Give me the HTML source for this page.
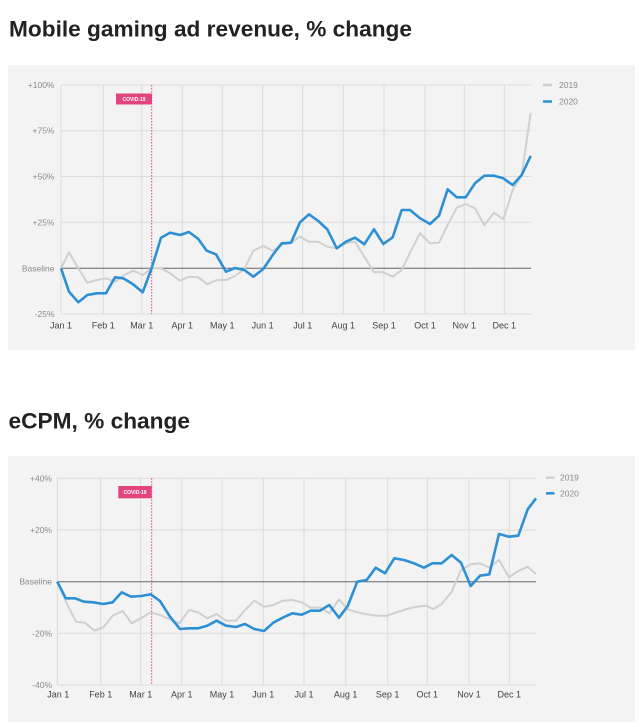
<!DOCTYPE html>
<html><head><meta charset="utf-8"><style>
html,body{margin:0;padding:0;background:#fff;}
svg{display:block;}
text{font-family:"Liberation Sans",Arial,sans-serif;}
</style></head><body>
<svg width="640" height="727" viewBox="0 0 640 727" xmlns="http://www.w3.org/2000/svg">
<rect x="0" y="0" width="640" height="727" fill="#fff"/>
<!-- Title 1 -->
<text x="9" y="36.5" font-size="22.5" font-weight="bold" fill="#222" textLength="403" lengthAdjust="spacingAndGlyphs">Mobile gaming ad revenue, % change</text>
<!-- Panel 1 -->
<rect x="8" y="65" width="627" height="285" fill="#f3f3f3"/>
<g stroke="#dcdcdc" stroke-width="1">
<line x1="61" y1="85" x2="531" y2="85"/>
<line x1="61" y1="130.7" x2="531" y2="130.7"/>
<line x1="61" y1="176.5" x2="531" y2="176.5"/>
<line x1="61" y1="222.3" x2="531" y2="222.3"/>
<line x1="61" y1="314" x2="531" y2="314"/>
<line x1="61" y1="85" x2="61" y2="314"/>
<line x1="103.3" y1="85" x2="103.3" y2="314"/>
<line x1="141.7" y1="85" x2="141.7" y2="314"/>
<line x1="182.3" y1="85" x2="182.3" y2="314"/>
<line x1="222.3" y1="85" x2="222.3" y2="314"/>
<line x1="262.7" y1="85" x2="262.7" y2="314"/>
<line x1="302.7" y1="85" x2="302.7" y2="314"/>
<line x1="343.3" y1="85" x2="343.3" y2="314"/>
<line x1="384" y1="85" x2="384" y2="314"/>
<line x1="425" y1="85" x2="425" y2="314"/>
<line x1="464.3" y1="85" x2="464.3" y2="314"/>
<line x1="504.3" y1="85" x2="504.3" y2="314"/>
</g>
<line x1="61" y1="268.3" x2="531" y2="268.3" stroke="#666" stroke-width="1"/>
<line x1="151.7" y1="85" x2="151.7" y2="314" stroke="#e0407a" stroke-width="1" stroke-dasharray="1.5,1.5"/>
<rect x="116" y="93.5" width="36" height="11" fill="#e2457d"/>
<text x="134" y="101" font-size="5" font-weight="bold" fill="#fff" text-anchor="middle">COVID-19</text>
<g font-size="8.5" fill="#8a8a8a" text-anchor="end">
<text x="54.5" y="88">+100%</text>
<text x="54.5" y="133.7">+75%</text>
<text x="54.5" y="179.5">+50%</text>
<text x="54.5" y="225.3">+25%</text>
<text x="54.5" y="271.3">Baseline</text>
<text x="54.5" y="317">-25%</text>
</g>
<g font-size="9" fill="#444" text-anchor="middle">
<text x="61" y="328.5">Jan 1</text>
<text x="103.3" y="328.5">Feb 1</text>
<text x="141.7" y="328.5">Mar 1</text>
<text x="182.3" y="328.5">Apr 1</text>
<text x="222.3" y="328.5">May 1</text>
<text x="262.7" y="328.5">Jun 1</text>
<text x="302.7" y="328.5">Jul 1</text>
<text x="343.3" y="328.5">Aug 1</text>
<text x="384" y="328.5">Sep 1</text>
<text x="425" y="328.5">Oct 1</text>
<text x="464.3" y="328.5">Nov 1</text>
<text x="504.3" y="328.5">Dec 1</text>
</g>
<polyline fill="none" stroke="#d0d0d0" stroke-width="2" stroke-linejoin="round" points="61,268.3 69,252.3 78.3,268.3 87.3,282.7 96.7,280 106,278.3 115,281.7 124,275 133.3,270.7 142.7,275 151.7,268.3 161,268.3 170,273.3 180,280.7 189,276.7 198.3,277.3 207.3,284.3 216.7,280 226,280 235,276 244.3,269.3 253.3,250.7 263.3,246 272.7,250.7 281.7,245 291,242.7 300,236.7 309,241.7 318.3,241.7 327.3,246.7 336.7,248.3 346,243.3 355,241.7 364.3,256.7 374,272.3 383.3,272.3 392.7,276.7 401.7,270 410,252.7 420,233.3 430,243.3 439,242.7 447.7,225 456.7,207.7 465.7,204 475,208.3 484.3,225 494,212.7 503.3,219.3 512.7,190 521.7,175 530.7,112.7"/>
<polyline fill="none" stroke="#2e90d4" stroke-width="2.6" stroke-linejoin="round" points="61,268.3 69,291.7 78.3,302.3 87.3,295 96.7,293.3 106,293.3 115,277.3 123.3,278.3 132.7,284 142.7,292.3 151.7,268 161,237.7 170,232.7 180,235 189,232 198.3,239 206.7,250.7 216,254.3 226,271.7 235,268 244.3,270 253.3,276.7 263.3,269 272.7,255 281.7,243.3 291,242.7 300,222.3 309,214.3 318.3,221 327.3,229.3 336.7,248.3 346,241.7 355,237.7 364.3,244.3 374,229.3 383.3,244 392.7,237.3 401.7,210 410,210 420,218.3 430,224 439,215.7 447.7,189.3 456.7,197.3 465.7,197.3 475,183.3 484.3,175.7 494,175.7 503.3,178.3 512.7,185 521.7,175 530.7,156"/>
<line x1="543" y1="85" x2="552" y2="85" stroke="#d0d0d0" stroke-width="2.5"/>
<line x1="543" y1="101.5" x2="552" y2="101.5" stroke="#2e90d4" stroke-width="2.5"/>
<g font-size="8.5" fill="#8a8a8a">
<text x="559" y="88">2019</text>
<text x="559" y="104.5">2020</text>
</g>

<!-- Title 2 -->
<text x="8.5" y="428.3" font-size="22.5" font-weight="bold" fill="#222" textLength="181.5" lengthAdjust="spacingAndGlyphs">eCPM, % change</text>
<!-- Panel 2 -->
<rect x="8" y="456" width="627" height="266" fill="#f3f3f3"/>
<g stroke="#dcdcdc" stroke-width="1">
<line x1="57.3" y1="478.3" x2="536" y2="478.3"/>
<line x1="57.3" y1="530" x2="536" y2="530"/>
<line x1="57.3" y1="633.3" x2="536" y2="633.3"/>
<line x1="57.3" y1="685" x2="536" y2="685"/>
<line x1="57.3" y1="478.3" x2="57.3" y2="685"/>
<line x1="100.7" y1="478.3" x2="100.7" y2="685"/>
<line x1="140.7" y1="478.3" x2="140.7" y2="685"/>
<line x1="181.7" y1="478.3" x2="181.7" y2="685"/>
<line x1="222" y1="478.3" x2="222" y2="685"/>
<line x1="263.3" y1="478.3" x2="263.3" y2="685"/>
<line x1="304" y1="478.3" x2="304" y2="685"/>
<line x1="345.7" y1="478.3" x2="345.7" y2="685"/>
<line x1="387.7" y1="478.3" x2="387.7" y2="685"/>
<line x1="427.3" y1="478.3" x2="427.3" y2="685"/>
<line x1="469" y1="478.3" x2="469" y2="685"/>
<line x1="509.3" y1="478.3" x2="509.3" y2="685"/>
</g>
<line x1="57.3" y1="581.7" x2="536" y2="581.7" stroke="#666" stroke-width="1"/>
<line x1="151.7" y1="478.3" x2="151.7" y2="685" stroke="#e0407a" stroke-width="1" stroke-dasharray="1.5,1.5"/>
<rect x="118.3" y="486" width="33.4" height="12.3" fill="#e2457d"/>
<text x="135" y="494" font-size="5" font-weight="bold" fill="#fff" text-anchor="middle">COVID-19</text>
<g font-size="8.5" fill="#8a8a8a" text-anchor="end">
<text x="52" y="481.3">+40%</text>
<text x="52" y="533">+20%</text>
<text x="52" y="584.7">Baseline</text>
<text x="52" y="636.3">-20%</text>
<text x="52" y="688">-40%</text>
</g>
<g font-size="9" fill="#444" text-anchor="middle">
<text x="58.3" y="697.5">Jan 1</text>
<text x="100.7" y="697.5">Feb 1</text>
<text x="140.7" y="697.5">Mar 1</text>
<text x="181.7" y="697.5">Apr 1</text>
<text x="222" y="697.5">May 1</text>
<text x="263.3" y="697.5">Jun 1</text>
<text x="304" y="697.5">Jul 1</text>
<text x="345.7" y="697.5">Aug 1</text>
<text x="387.7" y="697.5">Sep 1</text>
<text x="427.3" y="697.5">Oct 1</text>
<text x="469" y="697.5">Nov 1</text>
<text x="509.3" y="697.5">Dec 1</text>
</g>
<polyline fill="none" stroke="#d0d0d0" stroke-width="2" stroke-linejoin="round" points="57.3,581.7 66.7,603.3 76,621.7 85,622.7 94.3,630.7 103.3,627.3 112.7,615.7 122.7,611 131.7,623.3 141,618.3 150.7,612.3 160,615 170,619.3 179.3,623.3 189,610 198.3,612.3 207.3,618.3 216.7,614 226,620.7 236,620.7 245,610 254.3,600.7 264,606.7 273.3,605 282.7,600.7 292.3,600 301.7,602.3 310.7,607.7 320,607.5 329.3,613.3 339,599.3 347.7,609.3 357.3,612.3 366.7,614.3 376.7,615.7 386.7,615.7 396.7,612.3 406.7,609 416.7,606.7 426,605.7 433.3,609 441.7,604 451.7,591.7 461,570 470.7,564.3 479.3,563.3 489.3,567.3 499,560 509,577.3 518.3,571 527.7,566.7 536,574"/>
<polyline fill="none" stroke="#2e90d4" stroke-width="2.6" stroke-linejoin="round" points="57.3,581.7 65.7,598.3 75,598.3 84,601.7 93.3,602.3 103.3,604 112.7,602.3 121.7,592.3 131,596.7 141,596 150.7,594.3 160,601 170,616.7 180,629 189.3,628.3 198.3,628.3 207.3,625.7 216.7,620.7 226,625.7 236,627 245,624 254.3,629 264,631 273.3,622.7 282.7,617.7 292.3,613.3 301.7,614.7 310.7,610.7 320,610.7 329.3,605 339,617.7 347.7,606 357.3,581.7 366.7,580 375.7,567.7 385,573.3 394.3,558.3 404,560 414,563.3 424,567.7 432.3,563.3 441.7,563.3 451.7,555 461,562.7 470.7,586 480,575.7 489.3,574.3 499,534 509,536.7 518.3,535.7 527.7,509.3 536,498.3"/>
<line x1="546" y1="477.7" x2="554.5" y2="477.7" stroke="#d0d0d0" stroke-width="2.5"/>
<line x1="546" y1="493.3" x2="554.5" y2="493.3" stroke="#2e90d4" stroke-width="2.5"/>
<g font-size="8.5" fill="#8a8a8a">
<text x="560" y="480.7">2019</text>
<text x="560" y="496.3">2020</text>
</g>
</svg>
</body></html>
